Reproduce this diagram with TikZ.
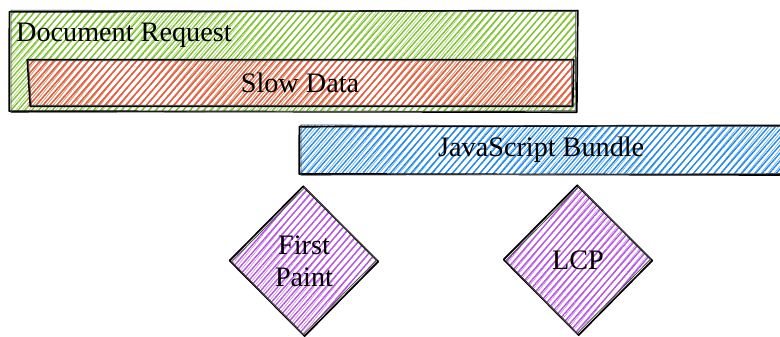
\documentclass[tikz,border=0pt]{standalone}
\usepackage{fontspec}
\setmainfont{Liberation Serif}
\usetikzlibrary{shapes.geometric,patterns.meta}

\definecolor{hgreen}{HTML}{7CC02E}
\definecolor{hred}{HTML}{F0564A}
\definecolor{hblue}{HTML}{2288E4}
\definecolor{hpurple}{HTML}{B455E0}

\tikzset{
  lbl/.style={font=\fontsize{28.2}{32}\selectfont, text=black},
  % hand-drawn hachure: a main set of strokes plus a faint, slightly skewed second pass
  hatch/.style={
    preaction={pattern={Lines[angle=51,distance=5.2pt,line width=0.6pt,yshift=0.9pt]}, pattern color=#1!70},
    pattern={Lines[angle=49,distance=5.2pt,line width=1.4pt]}, pattern color=#1},
  bar/.style={draw=none, inner sep=0pt, rectangle, lbl},
  milestone/.style={draw=none, diamond, inner sep=0pt, minimum width=146pt,
    minimum height=148pt, lbl, align=center, hatch=hpurple},
  ink/.style={draw=black, line width=1.7pt, line join=round, line cap=round},
  inkthin/.style={draw=black!70, line width=0.8pt, line cap=round},
}

% sketchy rectangle outline around a node: a bold pass and a thin, offset pass
\newcommand\roughbox[1]{%
  \draw[ink] ([shift={(-0.6,0.9)}]#1.north west) -- ([shift={(1.4,-0.4)}]#1.north east)
    -- ([shift={(0.4,0.8)}]#1.south east) -- ([shift={(-0.9,-0.3)}]#1.south west) -- cycle;
  \draw[inkthin] ([shift={(0.9,-0.8)}]#1.north west) -- ([shift={(-0.5,0.6)}]#1.north east)
    -- ([shift={(-1.2,-0.6)}]#1.south east) -- ([shift={(1.1,1.0)}]#1.south west) -- cycle;
}
% sketchy diamond outline
\newcommand\roughdiamond[1]{%
  \draw[ink] ([shift={(-0.8,-0.5)}]#1.north) -- ([shift={(1.0,0.6)}]#1.east)
    -- ([shift={(0.6,0.9)}]#1.south) -- ([shift={(-1.2,-0.4)}]#1.west) -- cycle;
  \draw[inkthin] ([shift={(0.7,0.8)}]#1.north) -- ([shift={(-0.6,-0.9)}]#1.east)
    -- ([shift={(-0.9,-0.6)}]#1.south) -- ([shift={(0.9,0.7)}]#1.west) -- cycle;
}

\begin{document}
\begin{tikzpicture}[x=1pt, y=-1pt]
  \useasboundingbox (0,0) rectangle (780,337);

  % request bar with the nested slow data bar
  \node[bar, hatch=hgreen, minimum width=565pt, minimum height=99pt, anchor=north west]
    (doc) at (10,11) {};
  \node[lbl, inner sep=0pt, anchor=base west] (doclabel) at (16,42) {Document Request};
  \node[bar, hatch=hred, minimum width=545pt, minimum height=46pt] (slow) at (300,83) {Slow Data};
  \roughbox{doc}
  \draw[ink] ([shift={(0,0)}]slow.north west) -- ([shift={(1,0)}]slow.north east)
    -- ([shift={(0,0)}]slow.south east) -- ([shift={(3,0)}]slow.south west) -- cycle;
  \draw[inkthin] ([shift={(1,1)}]slow.north west) -- ([shift={(-1,1)}]slow.north east)
    -- ([shift={(-1,-1)}]slow.south east) -- ([shift={(4,-1)}]slow.south west) -- cycle;

  % script bundle bar
  \node[bar, hatch=hblue, minimum width=482pt, minimum height=48pt, anchor=west]
    (js) at (300,150) {JavaScript Bundle};
  \roughbox{js}

  % milestones
  \node[milestone] (fp) at (304,261) {First\\Paint};
  \roughdiamond{fp}
  \node[milestone] (lcp) at (578,260) {LCP};
  \roughdiamond{lcp}
\end{tikzpicture}
\end{document}
